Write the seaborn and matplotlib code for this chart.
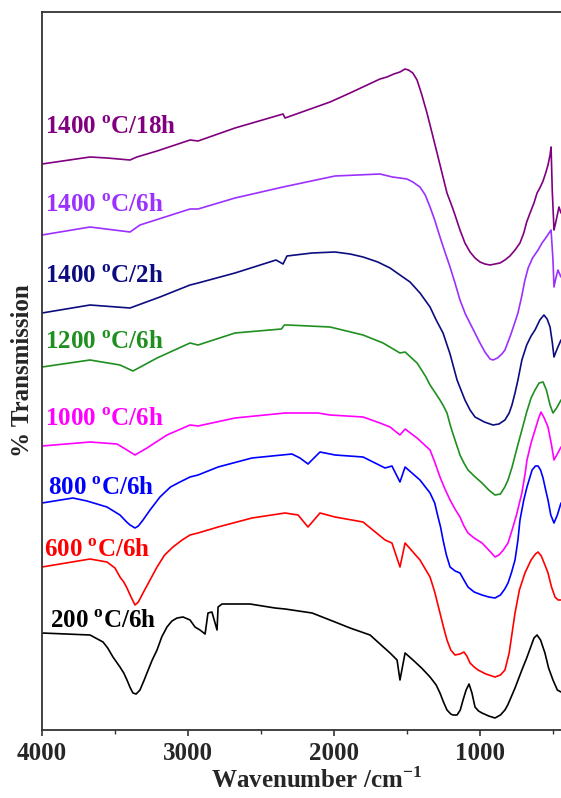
import matplotlib
matplotlib.use("Agg")
import matplotlib.pyplot as plt
import pandas as pd
import seaborn as sns

# FTIR spectra (arbitrary stacked transmission units)
wn_200 = [4000, 3671, 3582, 3550, 3514, 3490, 3466, 3440, 3418, 3395,
          3377, 3355, 3329, 3300, 3281, 3245, 3212, 3180, 3144, 3110,
          3075, 3034, 2986, 2952, 2918, 2883, 2863, 2836, 2801, 2794,
          2767, 2575, 2404, 2335, 2150, 1993, 1890, 1753, 1616, 1568,
          1548, 1513, 1459, 1400, 1342, 1300, 1274, 1250, 1226, 1200,
          1185, 1157, 1135, 1116, 1095, 1075, 1055, 1034, 1010, 986,
          940, 897, 860, 829, 810, 795, 760, 713, 680, 650,
          630, 609, 585, 555, 530, 500, 470, 445]
t_200 = [97, 95, 88, 82, 73, 68, 63, 57, 50, 42,
         37, 36, 40, 50, 57, 70, 80, 93, 103, 109,
         112, 113, 110, 103, 100, 96, 117, 118, 100, 123,
         126, 126, 122, 121, 117, 108, 102, 95, 77, 70,
         50, 77, 70, 62, 53, 45, 37, 28, 20, 16,
         15, 15, 20, 30, 40, 46, 37, 23, 19, 17,
         14, 12, 15, 20, 25, 30, 42, 60, 72, 84,
         92, 95, 90, 77, 62, 50, 40, 38]

wn_600 = [4000, 3671, 3555, 3500, 3466, 3440, 3418, 3390, 3363, 3340,
          3308, 3260, 3212, 3160, 3103, 3040, 2986, 2931, 2794, 2562,
          2335, 2246, 2178, 2096, 1993, 1801, 1650, 1603, 1548, 1513,
          1411, 1342, 1310, 1274, 1250, 1226, 1200, 1171, 1137, 1110,
          1090, 1068, 1040, 1013, 960, 897, 860, 829, 800, 780,
          760, 730, 692, 650, 620, 602, 580, 555, 534, 510,
          486, 465, 445]
t_600 = [163, 171, 168, 162, 153, 148, 142, 133, 125, 128,
         137, 150, 163, 175, 183, 190, 195, 197, 203, 212,
         217, 215, 203, 217, 213, 208, 190, 187, 163, 187,
         170, 153, 138, 117, 103, 90, 80, 75, 76, 78,
         74, 67, 63, 60, 56, 53, 55, 60, 77, 97,
         117, 140, 157, 170, 176, 178, 174, 165, 157, 143,
         133, 130, 130]

wn_800 = [4000, 3788, 3692, 3555, 3466, 3420, 3397, 3363, 3340, 3308,
          3260, 3192, 3120, 3055, 2986, 2931, 2794, 2562, 2288, 2233,
          2178, 2096, 1993, 1801, 1650, 1603, 1548, 1513, 1411, 1342,
          1310, 1294, 1270, 1253, 1230, 1205, 1170, 1137, 1110, 1082,
          1040, 986, 940, 897, 860, 830, 808, 785, 760, 740,
          726, 700, 678, 643, 620, 602, 585, 568, 550, 534,
          515, 493, 470, 445]
t_800 = [227, 232, 229, 223, 215, 208, 205, 202, 204, 210,
         220, 233, 243, 248, 253, 255, 263, 272, 276, 272,
         266, 278, 275, 273, 262, 264, 248, 263, 250, 237,
         227, 217, 203, 190, 175, 163, 159, 157, 150, 143,
         138, 135, 133, 132, 135, 141, 147, 157, 170, 190,
         210, 230, 243, 260, 264, 264, 260, 252, 240, 230,
         215, 207, 215, 227]

wn_1000 = [4000, 3671, 3486, 3418, 3363, 3281, 3144, 2986, 2931, 2678,
           2335, 2109, 2027, 1801, 1685, 1616, 1548, 1513, 1431, 1342,
           1310, 1274, 1240, 1205, 1171, 1137, 1110, 1082, 1040, 986,
           940, 897, 870, 840, 808, 780, 750, 713, 690, 678,
           650, 623, 600, 582, 560, 534, 510, 493, 470, 445]
t_1000 = [284, 288, 286, 280, 275, 282, 295, 305, 304, 312,
          317, 317, 315, 313, 307, 303, 295, 301, 292, 280,
          268, 253, 241, 230, 221, 213, 204, 197, 192, 187,
          180, 173, 175, 180, 187, 200, 215, 237, 257, 270,
          287, 300, 311, 318, 312, 303, 285, 270, 276, 283]

wn_1200 = [4000, 3671, 3466, 3377, 3212, 2986, 2931, 2678, 2360, 2340,
           2315, 2027, 1801, 1664, 1548, 1513, 1431, 1400, 1370, 1342,
           1310, 1274, 1250, 1226, 1200, 1171, 1137, 1110, 1082, 1040,
           986, 940, 897, 860, 830, 808, 780, 750, 713, 680,
           650, 623, 595, 568, 545, 520, 500, 475, 445]
t_1200 = [363, 370, 365, 359, 372, 387, 385, 397, 401, 405,
          405, 403, 395, 387, 377, 378, 367, 360, 353, 345,
          338, 330, 324, 317, 303, 290, 275, 267, 260, 254,
          247, 240, 235, 236, 243, 250, 263, 280, 300, 318,
          332, 340, 347, 348, 340, 325, 317, 322, 330]

wn_1400_2h = [4000, 3671, 3397, 3192, 2986, 2931, 2678, 2397, 2349, 2322,
              2150, 1993, 1890, 1801, 1700, 1616, 1548, 1479, 1411, 1342,
              1300, 1253, 1205, 1157, 1130, 1103, 1068, 1034, 970, 911,
              870, 829, 800, 781, 760, 740, 713, 680, 650, 623,
              590, 562, 540, 520, 505, 493, 480, 466, 445]
t_1400_2h = [417, 425, 422, 433, 445, 447, 457, 470, 466, 474,
             477, 478, 476, 473, 468, 462, 455, 448, 437, 423,
             410, 397, 376, 350, 340, 330, 320, 313, 308, 305,
             306, 310, 317, 325, 337, 350, 370, 385, 394, 400,
             410, 415, 411, 403, 388, 373, 378, 383, 390]

wn_1400_6h = [4000, 3671, 3397, 3329, 2986, 2931, 2678, 2349, 1993, 1685,
              1600, 1548, 1500, 1460, 1411, 1375, 1342, 1310, 1274, 1240,
              1205, 1171, 1137, 1100, 1055, 1000, 966, 931, 911, 880,
              850, 829, 790, 760, 740, 715, 692, 670, 640, 602,
              575, 545, 513, 500, 493, 480, 466, 445]
t_1400_6h = [495, 503, 498, 505, 521, 521, 532, 543, 554, 556,
             553, 552, 551, 548, 543, 535, 523, 510, 493, 478,
             463, 447, 430, 416, 403, 387, 378, 371, 370, 372,
             376, 380, 395, 408, 417, 433, 450, 462, 472, 480,
             487, 493, 500, 470, 443, 452, 460, 453]

wn_1400_18h = [4000, 3671, 3555, 3397, 3350, 3212, 2986, 2931, 2678, 2349,
               2335, 2027, 1890, 1685, 1637, 1590, 1548, 1513, 1490, 1460,
               1431, 1400, 1363, 1330, 1294, 1260, 1226, 1190, 1171, 1137,
               1103, 1068, 1034, 1000, 966, 931, 897, 863, 829, 795,
               760, 726, 700, 680, 657, 630, 609, 590, 568, 550,
               534, 520, 513, 505, 493, 485, 473, 459, 445]
t_1400_18h = [566, 573, 572, 570, 573, 579, 590, 589, 602, 616,
              612, 628, 637, 651, 653, 656, 658, 661, 660, 657,
              650, 636, 617, 598, 577, 557, 537, 523, 515, 500,
              487, 478, 472, 468, 466, 465, 466, 467, 470, 474,
              480, 487, 497, 508, 517, 527, 537, 542, 549, 557,
              565, 575, 583, 540, 500, 505, 513, 523, 517]

samples = ["200 $^{\\mathbf{o}}$C/6h", "600 $^{\\mathbf{o}}$C/6h", "800 $^{\\mathbf{o}}$C/6h",
           "1000 $^{\\mathbf{o}}$C/6h", "1200 $^{\\mathbf{o}}$C/6h", "1400 $^{\\mathbf{o}}$C/2h",
           "1400 $^{\\mathbf{o}}$C/6h", "1400 $^{\\mathbf{o}}$C/18h"]
colors = ["#000000", "#ff0000", "#0000ff", "#ff00ff", "#1f8f1f", "#0c0c80", "#9b30ff", "#800080"]
label_wn = [3945, 3985, 3962, 3980, 3980, 3980, 3980, 3980]
label_t = [102, 173, 235, 304, 381, 447, 518, 596]

spectra = [(wn_200, t_200), (wn_600, t_600), (wn_800, t_800), (wn_1000, t_1000),
           (wn_1200, t_1200), (wn_1400_2h, t_1400_2h), (wn_1400_6h, t_1400_6h),
           (wn_1400_18h, t_1400_18h)]

rows = []
for name, (wn, t) in zip(samples, spectra):
    for w, v in zip(wn, t):
        rows.append({"wavenumber": w, "transmission": v, "sample": name})
df = pd.DataFrame(rows)

sns.set_theme(style="white")
plt.rcParams["font.family"] = ["Liberation Serif", "DejaVu Serif"]
plt.rcParams["mathtext.fontset"] = "custom"
plt.rcParams["mathtext.rm"] = "Liberation Serif"
plt.rcParams["mathtext.bf"] = "Liberation Serif:bold"

fig = plt.figure(figsize=(5.61, 7.98), dpi=100)
ax = fig.add_axes([42 / 561, 68 / 798, 519 / 561, 718 / 798])

sns.lineplot(data=df, x="wavenumber", y="transmission", hue="sample",
             palette=dict(zip(samples, colors)), estimator=None, sort=True,
             linewidth=1.2, legend=False, ax=ax)

for name, c, x, y in zip(samples, colors, label_wn, label_t):
    ax.text(x, y, name, color=c, fontsize=18, fontweight="bold", va="baseline", ha="left")

ax.set_xlim(4000, 445)
ax.set_ylim(0, 718)
ax.set_xticks([4000, 3000, 2000, 1000])
ax.set_xticks([3500, 2500, 1500, 500], minor=True)
ax.set_yticks([])
ax.tick_params(axis="x", which="major", direction="out", length=4, width=1.2,
               labelsize=18, pad=5, bottom=True, color="#333333")
ax.tick_params(axis="x", which="minor", direction="out", length=3, width=1.0,
               bottom=True, color="#333333")
for lbl in ax.get_xticklabels():
    lbl.set_fontweight("bold")

ax.set_xlabel("Wavenumber /cm$^{\\mathbf{-1}}$", fontsize=18, fontweight="bold")
ax.xaxis.set_label_coords(0.528, -0.052)
ax.set_ylabel("% Transmission", fontsize=18, fontweight="bold")
ax.yaxis.set_label_coords(-0.016, 0.5)

for side in ["left", "top", "bottom"]:
    ax.spines[side].set_color("#333333")
    ax.spines[side].set_linewidth(1.3)
ax.spines["right"].set_visible(False)

fig.savefig("out.png", dpi=100, facecolor="white")
